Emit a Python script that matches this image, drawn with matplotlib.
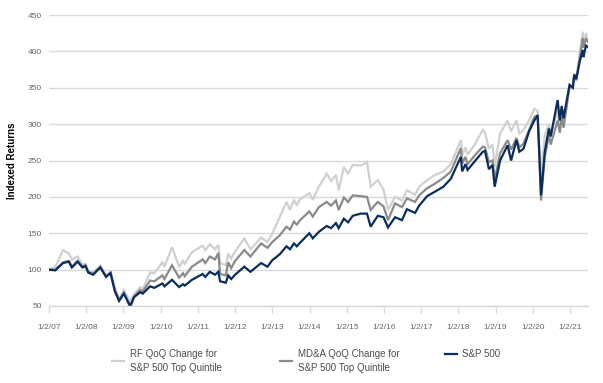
import matplotlib
matplotlib.use("Agg")
import matplotlib.pyplot as plt
import pandas as pd

plt.rcParams['font.family'] = ['Liberation Sans', 'DejaVu Sans']

dates = [
    "2007-01-02", "2007-03-05", "2007-05-20", "2007-07-15", "2007-08-15", "2007-10-10",
    "2007-11-26", "2007-12-26", "2008-01-22", "2008-03-10", "2008-05-19", "2008-07-15",
    "2008-08-28", "2008-10-10", "2008-11-20", "2009-01-06", "2009-03-09", "2009-04-15",
    "2009-06-15", "2009-07-10", "2009-09-20", "2009-11-01", "2010-01-19", "2010-02-08",
    "2010-04-23", "2010-07-02", "2010-08-09", "2010-08-26", "2010-11-05", "2011-02-18",
    "2011-03-16", "2011-04-29", "2011-06-20", "2011-07-22", "2011-08-08", "2011-10-03",
    "2011-10-27", "2011-11-25", "2012-01-02", "2012-04-02", "2012-06-01", "2012-09-14",
    "2012-11-15", "2013-01-02", "2013-03-15", "2013-05-21", "2013-06-24", "2013-08-02",
    "2013-08-30", "2013-10-01", "2013-12-31", "2014-02-03", "2014-04-04", "2014-06-20",
    "2014-08-01", "2014-09-18", "2014-10-15", "2014-12-05", "2015-01-15", "2015-03-02",
    "2015-05-20", "2015-07-20", "2015-08-25", "2015-11-03", "2015-12-29", "2016-02-11",
    "2016-04-20", "2016-06-27", "2016-08-15", "2016-11-03", "2016-12-13", "2017-03-01",
    "2017-05-15", "2017-08-08", "2017-10-20", "2018-01-26", "2018-02-08", "2018-03-12",
    "2018-04-02", "2018-06-12", "2018-08-29", "2018-09-20", "2018-10-29", "2018-12-03",
    "2018-12-24", "2019-02-15", "2019-04-30", "2019-06-03", "2019-07-26", "2019-08-23",
    "2019-10-02", "2019-11-27", "2020-01-17", "2020-02-19", "2020-03-23", "2020-04-29",
    "2020-06-08", "2020-06-26", "2020-09-02", "2020-09-23", "2020-10-12", "2020-10-30",
    "2020-12-28", "2021-01-29", "2021-02-12", "2021-03-04", "2021-04-05", "2021-05-07",
    "2021-05-12", "2021-06-07", "2021-06-25",
]

rf_qoq = [
    100, 104, 127, 122, 114, 118, 107, 108, 98, 96, 105, 92,
    97, 75, 60, 72, 56, 66, 76, 73, 96, 95, 110, 104,
    131, 104, 112, 108, 124, 133, 127, 135, 128, 134, 109, 106,
    122, 115, 125, 143, 128, 144, 138, 150, 172, 193, 182, 196,
    188, 197, 205, 196, 214, 232, 222, 230, 209, 241, 232, 244,
    243, 248, 214, 223, 210, 182, 200, 195, 209, 203, 214, 223,
    230, 235, 245, 278, 258, 268, 258, 272, 292, 288, 266, 272,
    241, 287, 305, 290, 305, 287, 292, 305, 321, 318, 228, 285,
    300, 288, 318, 292, 320, 300, 350, 352, 370, 362, 395, 427,
    410, 425, 418,
]

mda_qoq = [
    100, 100, 110, 112, 104, 112, 104, 106, 97, 94, 104, 91,
    96, 71, 58, 68, 48, 63, 72, 70, 85, 84, 92, 87,
    106, 89, 95, 91, 104, 114, 109, 118, 114, 123, 94, 92,
    110, 102, 112, 127, 118, 136, 130, 138, 147, 159, 155, 166,
    162, 168, 180, 173, 186, 193, 188, 195, 182, 199, 193, 202,
    201, 200, 182, 193, 187, 168, 191, 186, 198, 193, 202, 212,
    218, 226, 235, 267, 246, 255, 245, 257, 269, 268, 248, 250,
    223, 260, 278, 265, 281, 268, 273, 292, 310, 312, 195, 255,
    285, 272, 305, 288, 310, 295, 352, 350, 368, 360, 390, 418,
    405, 418, 413,
]

sp500 = [
    100, 99, 109, 111, 103, 111, 103, 105, 96, 93, 103, 90,
    95, 70, 57, 67, 50, 62, 69, 67, 77, 75, 81, 77,
    86, 76, 80, 78, 86, 94, 90, 97, 93, 97, 84, 82,
    92, 87, 93, 104, 97, 109, 104, 113, 121, 132, 128, 136,
    132, 137, 150, 143, 152, 160, 157, 164, 157, 170, 165, 174,
    177, 177, 159, 174, 172, 158, 172, 168, 183, 178, 188, 201,
    207, 214, 225, 255, 235, 245, 237, 249, 262, 263, 238, 244,
    214, 250, 271, 250, 278, 262, 266, 290, 305, 312, 202, 262,
    294, 283, 333, 305, 325, 308, 354, 350, 368, 362, 385, 402,
    392, 408, 406,
]

labels = ["RF QoQ Change for\nS&P 500 Top Quintile",
          "MD&A QoQ Change for\nS&P 500 Top Quintile",
          "S&P 500"]
colors = ["#d0d0d0", "#8a8a8a", "#0b2d5c"]

x = pd.to_datetime(dates)

fig = plt.figure(figsize=(6.03, 3.83), dpi=100)
ax = fig.add_axes([49/603, 1-306/383, (588-49)/603, (306-15)/383])

handles = []
for vals, c in zip([rf_qoq, mda_qoq, sp500], colors):
    h, = ax.plot(x, vals, color=c, lw=1.6, solid_joinstyle='miter')
    handles.append(h)

ax.set_ylim(50, 450)
ax.set_yticks(range(50, 451, 50))
ax.set_xlim(pd.Timestamp("2007-01-02"), pd.Timestamp("2021-06-27"))
tick_years = list(range(2007, 2022))
ax.set_xticks([pd.Timestamp(f"{y}-01-02") for y in tick_years])
ax.set_xticklabels([f"1/2/{y % 100:02d}" for y in tick_years])

ax.grid(axis='y', color='#d9d9d9', lw=1.0)
ax.set_axisbelow(True)
for s in ['top', 'right', 'left']:
    ax.spines[s].set_visible(False)
ax.spines['bottom'].set_color('#d9d9d9')
ax.spines['bottom'].set_linewidth(1.0)
ax.tick_params(axis='y', length=0, pad=5, labelsize=6, labelcolor='#666666')
ax.tick_params(axis='x', length=5, width=1.0, color='#d9d9d9', pad=8,
               labelsize=6, labelcolor='#666666')

ax.set_ylabel("Indexed Returns", fontsize=7, fontweight='bold', labelpad=8)

positions = [112/603, 280/603, 445/603]
for h, lab, px in zip(handles, labels, positions):
    leg = fig.legend([h], [lab], loc='upper left', bbox_to_anchor=(px, 1-349/383),
                     frameon=False, fontsize=7, handlelength=1.2, handletextpad=0.6,
                     borderpad=0, borderaxespad=0)
    for t in leg.get_texts():
        t.set_color('#4d4d4d')
        t.set_linespacing(1.45)
    for l in leg.get_lines():
        l.set_linewidth(1.6)

fig.savefig("out.png", dpi=100)
